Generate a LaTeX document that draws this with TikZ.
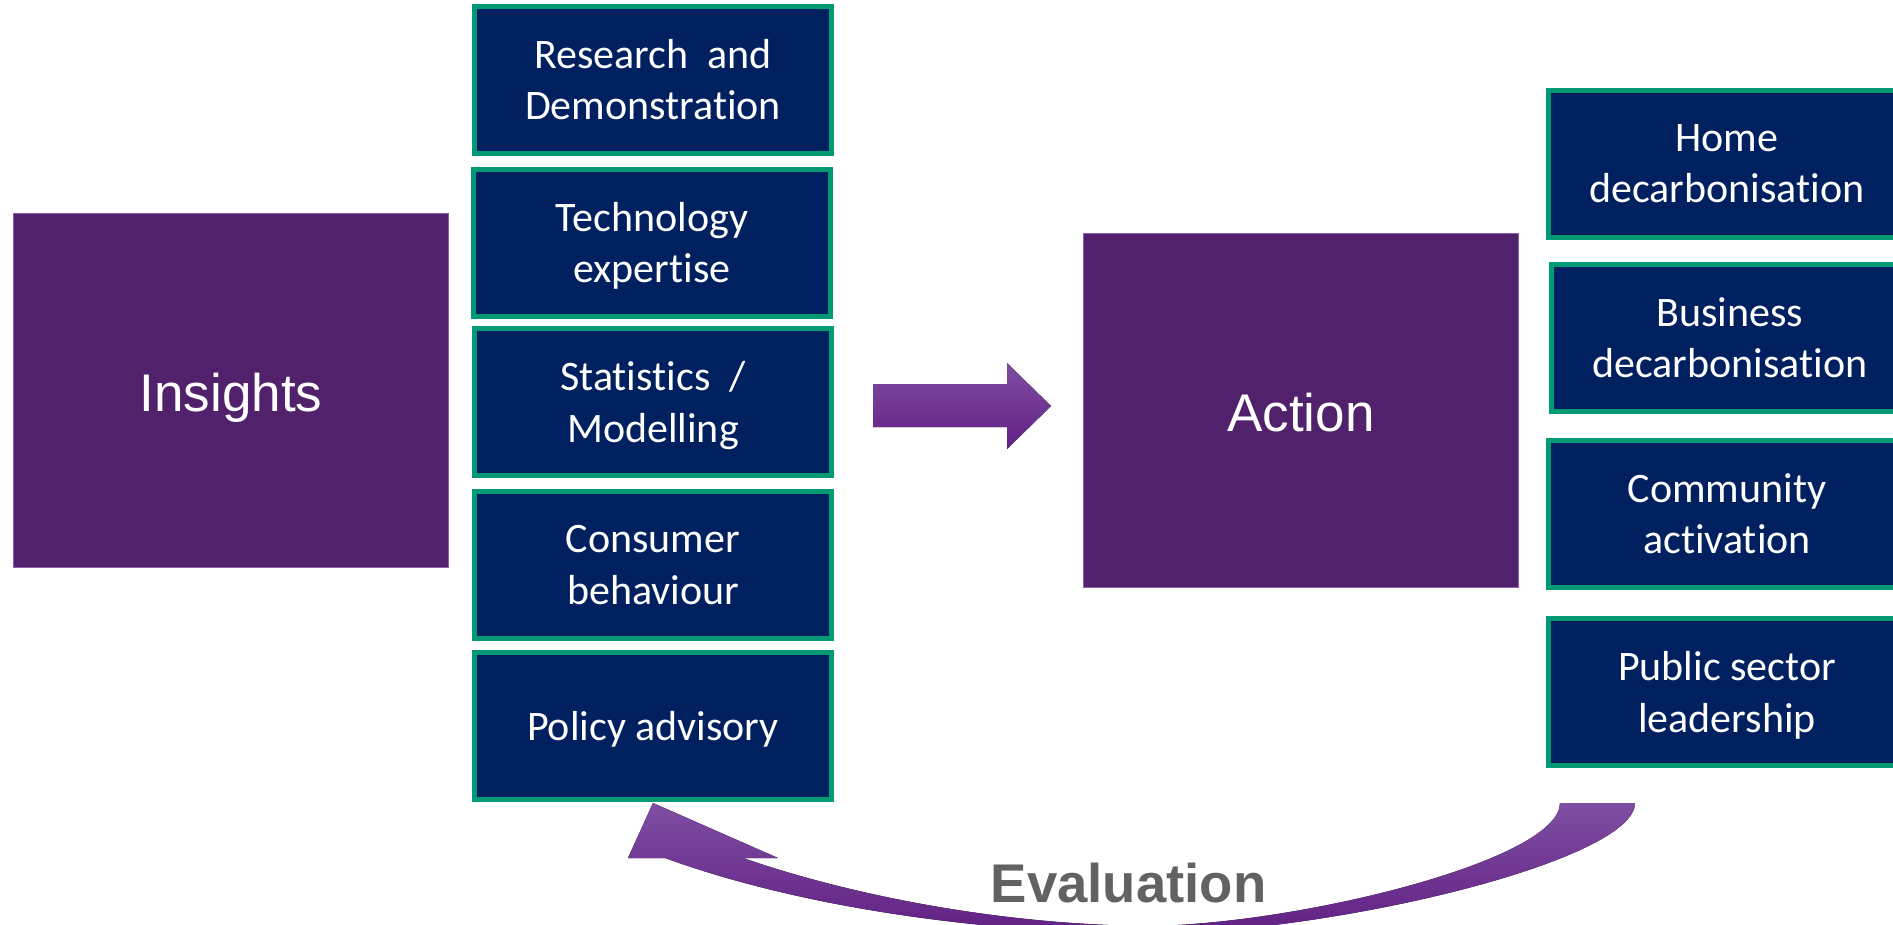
\documentclass[tikz,border=0pt]{standalone}
\usepackage{fontspec}
\setmainfont{Liberation Sans}
\newfontfamily\boxfont[Ligatures={NoCommon,NoContextual}]{Carlito}
\usetikzlibrary{positioning}

\definecolor{plum}{RGB}{81,34,107}
\definecolor{plumedge}{RGB}{140,95,175}
\definecolor{navybox}{RGB}{0,32,96}
\definecolor{boxgreen}{RGB}{0,155,117}
\definecolor{evalgray}{RGB}{96,99,98}
\definecolor{arrowtop}{RGB}{126,78,162}
\definecolor{arrowbot}{RGB}{98,32,132}

\tikzset{
  bigbox/.style={rectangle, fill=plum, draw=plumedge, line width=1pt,
    minimum width=435, minimum height=354, inner sep=0pt,
    text height=42pt, text depth=0pt,
    text=white, font=\fontsize{53}{60}\selectfont},
  itembox/.style={rectangle, fill=navybox, draw=boxgreen, line width=5pt,
    minimum width=357, minimum height=147, inner sep=0pt, align=center,
    text depth=-4pt, text=white, font=\boxfont\fontsize{42}{51.6}\selectfont},
}

\begin{document}
\begin{tikzpicture}[x=1pt,y=-1pt]
\useasboundingbox (0,0) rectangle (1893,924);
\clip (0,0) rectangle (1893,924);

% main blocks
\node[bigbox] (insights) at (231,390.5) {Insights};
\node[bigbox] (action) at (1301,410) {Action};

% insights column
\node[itembox] (research) at (653,79.5) {Research~ and\\Demonstration};
\node[itembox] (technology) at (652,242.5) {Technology\\expertise};
\node[itembox] (statistics) at (653,402) {Statistics~ /\\Modelling};
\node[itembox] (consumer) at (653,565) {Consumer\\behaviour};
\node[itembox] (policy) at (653,725.5) {Policy advisory};

% action column
\node[itembox] (home) at (1727,163.5) {Home\\decarbonisation};
\node[itembox] (business) at (1730,337.5) {Business\\decarbonisation};
\node[itembox] (community) at (1727,513.5) {Community\\activation};
\node[itembox] (public) at (1727,692) {Public sector\\leadership};

% block arrow
\fill[top color=arrowtop, bottom color=arrowbot] (873,384) -- (1007,384)
  -- (1007,363) -- (1051,406) -- (1007,449) -- (1007,427) -- (873,427) -- cycle;

% evaluation loop
\fill[top color=arrowtop, bottom color=arrowbot]
  (665,858) -- (628,858) -- (653,803) -- (778,858) -- (743,858)
  .. controls (850,895) and (1000,925) .. (1150,926)
  .. controls (1300,924) and (1560,860) .. (1560,803)
  -- (1635,803)
  .. controls (1635,860) and (1340,932) .. (1150,934)
  .. controls (950,932) and (780,900) .. (665,858) -- cycle;
\node[anchor=base, inner sep=0pt, text=evalgray,
  font=\bfseries\fontsize{54.5}{60}\selectfont] (evaluation) at (1128.5,902) {Evaluation};

\end{tikzpicture}
\end{document}
